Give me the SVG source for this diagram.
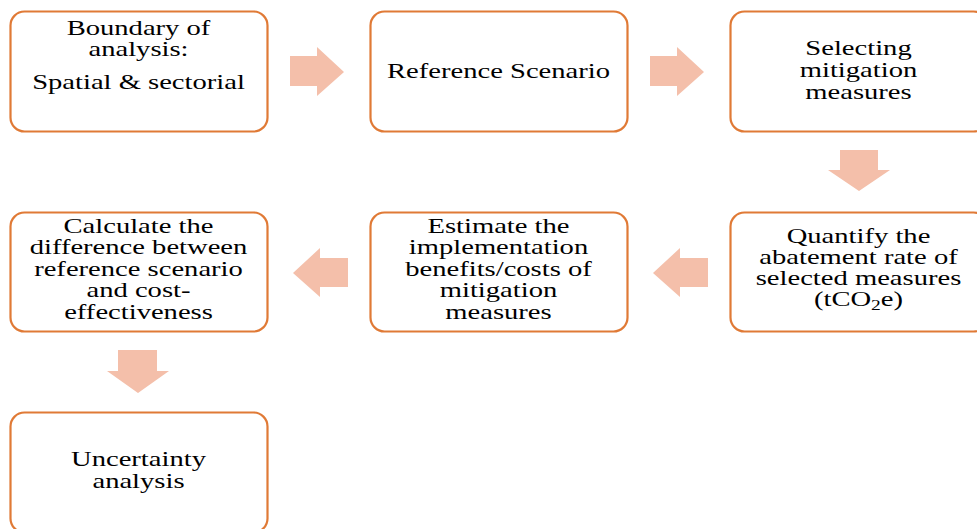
<svg xmlns="http://www.w3.org/2000/svg" width="977" height="529" viewBox="0 0 977 529">
<style>
.box{fill:#fff;stroke:#E07A36;stroke-width:2.2}
.arr{fill:#F4BFAA;stroke:none}
.t{font-family:"Liberation Serif","Times New Roman",serif;font-size:22px;fill:#000;text-anchor:middle}
</style>
<rect width="977" height="529" fill="#fff"/>
<g id="connectors">
<polygon class="arr" points="290,56 317,56 317,47 344,72 317,96 317,86 290,86"/>
<polygon class="arr" points="650,56 677,56 677,47 704,72 677,96 677,86 650,86"/>
<polygon class="arr" points="840,150 878,150 878,170 890,170 859,191 828,170 840,170"/>
<polygon class="arr" points="708,258 680,258 680,248 653,273 680,297 680,287 708,287"/>
<polygon class="arr" points="348,258 320,258 320,248 293,273 320,297 320,287 348,287"/>
<polygon class="arr" points="118,350 157,350 157,371 169,371 138,393 107,371 118,371"/>
</g>
<g id="n1">
<rect class="box" x="10.5" y="11.5" width="257" height="120" rx="14"/>
<g transform="translate(138.5 0) scale(1.3 1)">
<text class="t" x="0" y="35">Boundary of</text>
<text class="t" x="0" y="56">analysis:</text>
<text class="t" x="0" y="89">Spatial &amp; sectorial</text>
</g>
</g>
<g id="n2">
<rect class="box" x="370.5" y="11.5" width="257" height="120" rx="14"/>
<g transform="translate(498.5 0) scale(1.3 1)">
<text class="t" x="0" y="78">Reference Scenario</text>
</g>
</g>
<g id="n3">
<rect class="box" x="730.5" y="11.5" width="257" height="120" rx="14"/>
<g transform="translate(858.5 0) scale(1.3 1)">
<text class="t" x="0" y="55">Selecting</text>
<text class="t" x="0" y="77">mitigation</text>
<text class="t" x="0" y="99">measures</text>
</g>
</g>
<g id="n4">
<rect class="box" x="730.5" y="212.5" width="257" height="119" rx="14"/>
<g transform="translate(858.5 0) scale(1.3 1)">
<text class="t" x="0" y="243">Quantify the</text>
<text class="t" x="0" y="264">abatement rate of</text>
<text class="t" x="0" y="285">selected measures</text>
<text class="t" x="0" y="306">(tCO<tspan font-size="15" dy="4">2</tspan><tspan dy="-4">e)</tspan></text>
</g>
</g>
<g id="n5">
<rect class="box" x="370.5" y="212.5" width="257" height="119" rx="14"/>
<g transform="translate(498.5 0) scale(1.3 1)">
<text class="t" x="0" y="233">Estimate the</text>
<text class="t" x="0" y="254.5">implementation</text>
<text class="t" x="0" y="276">benefits/costs of</text>
<text class="t" x="0" y="297.5">mitigation</text>
<text class="t" x="0" y="319">measures</text>
</g>
</g>
<g id="n6">
<rect class="box" x="10.5" y="212.5" width="257" height="119" rx="14"/>
<g transform="translate(138.5 0) scale(1.3 1)">
<text class="t" x="0" y="233">Calculate the</text>
<text class="t" x="0" y="254.5">difference between</text>
<text class="t" x="0" y="276">reference scenario</text>
<text class="t" x="0" y="297.5">and cost-</text>
<text class="t" x="0" y="319">effectiveness</text>
</g>
</g>
<g id="n7">
<rect class="box" x="10.5" y="412.5" width="257" height="120" rx="14"/>
<g transform="translate(138.5 0) scale(1.3 1)">
<text class="t" x="0" y="466">Uncertainty</text>
<text class="t" x="0" y="488">analysis</text>
</g>
</g>
</svg>
